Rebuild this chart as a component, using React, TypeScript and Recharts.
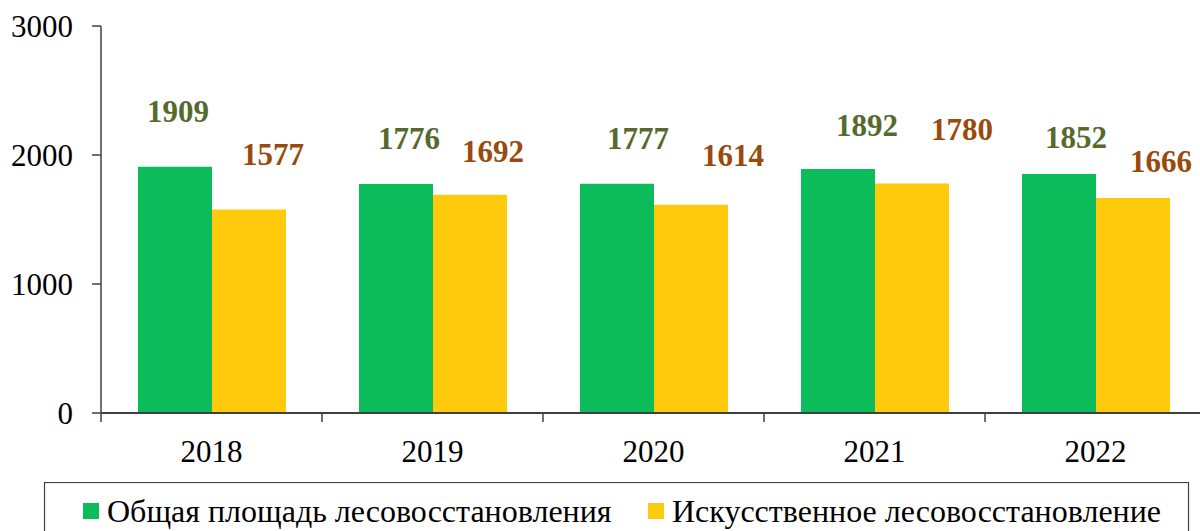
import React from "react";
import { BarChart, Bar, XAxis, YAxis, LabelList } from "recharts";

const YEARS = ["2018", "2019", "2020", "2021", "2022"];
const TOTAL_AREA = [1909, 1776, 1777, 1892, 1852];
const ARTIFICIAL = [1577, 1692, 1614, 1780, 1666];
const Y_TICKS = [0, 1000, 2000, 3000];
const SERIES_NAMES = [
  "Общая площадь лесовосстановления",
  "Искусственное лесовосстановление",
];

// labels were dragged by hand in the source: shift from bar centre, gap above bar top
const TOTAL_LABEL_DX = [3, 13, 21, 29, 17];
const TOTAL_LABEL_GAP = [45, 35, 35, 33, 26];
const ART_LABEL_DX = [24, 23, 42, 50, 28];
const ART_LABEL_GAP = [45, 33, 39, 43, 26];

const GREEN = "#0CBB5A";
const YELLOW = "#FFCA0C";
const GREEN_TEXT = "#566A2E";
const BROWN_TEXT = "#9A4A0A";
const AXIS = "#404040";
const FONT = "Liberation Serif";

const CHART_W = 1210;
const CHART_H = 531;
const PLOT_LEFT = 101;
const PLOT_RIGHT = 1206;
const BAND = (PLOT_RIGHT - PLOT_LEFT) / YEARS.length;

const data = YEARS.map((year, i) => ({
  year,
  total: TOTAL_AREA[i],
  artificial: ARTIFICIAL[i],
}));

function YearTick(props: any) {
  const { x, y, payload, index } = props;
  const half = BAND / 2;
  return (
    <g>
      <line x1={x - half} x2={x - half} y1={y} y2={y + 9} stroke={AXIS} strokeWidth={1.5} />
      {index === YEARS.length - 1 && (
        <line x1={x + half} x2={x + half} y1={y} y2={y + 9} stroke={AXIS} strokeWidth={1.5} />
      )}
      <text x={x} y={y + 49} textAnchor="middle" fontSize={31} fontFamily={FONT} fill="#000">
        {payload.value}
      </text>
    </g>
  );
}

function ValueTick(props: any) {
  const { x, y, payload } = props;
  return (
    <text x={x} y={y + 11} textAnchor="end" fontSize={31} fontFamily={FONT} fill="#000">
      {payload.value}
    </text>
  );
}

function makeLabel(dxs: number[], gaps: number[], color: string) {
  return (props: any) => {
    const { x, y, width, value, index } = props;
    return (
      <text
        x={Number(x) + Number(width) / 2 + dxs[index]}
        y={Number(y) - gaps[index]}
        textAnchor="middle"
        fontSize={31}
        fontWeight="bold"
        fontFamily={FONT}
        fill={color}
      >
        {value}
      </text>
    );
  };
}

function LegendBox() {
  return (
    <svg
      width={1200}
      height={49}
      style={{ position: "absolute", left: 0, top: 482 }}
    >
      <rect x={44.5} y={0.5} width={1144} height={100} fill="#fff" stroke={AXIS} strokeWidth={1.2} />
      <rect x={83} y={21} width={16} height={16} fill={GREEN} />
      <text x={107} y={40} fontSize={32} fontFamily={FONT} fill="#000">
        {SERIES_NAMES[0]}
      </text>
      <rect x={648} y={21} width={16} height={16} fill={YELLOW} />
      <text x={672} y={40} fontSize={32} fontFamily={FONT} fill="#000">
        {SERIES_NAMES[1]}
      </text>
    </svg>
  );
}

export default function App() {
  return (
    <div
      style={{
        position: "absolute",
        left: 0,
        top: 0,
        width: 1200,
        height: 531,
        overflow: "hidden",
        background: "#fff",
      }}
    >
      <BarChart
        width={CHART_W}
        height={CHART_H}
        data={data}
        margin={{ top: 26, right: CHART_W - PLOT_RIGHT, bottom: 0, left: 0 }}
        barCategoryGap={37}
        barGap={0}
      >
        <XAxis
          dataKey="year"
          height={118}
          axisLine={{ stroke: AXIS, strokeWidth: 2 }}
          tickLine={false}
          tickSize={0}
          tickMargin={0}
          tick={<YearTick />}
          interval={0}
        />
        <YAxis
          width={PLOT_LEFT}
          domain={[0, 3000]}
          ticks={Y_TICKS}
          axisLine={{ stroke: AXIS, strokeWidth: 1.5 }}
          tickLine={{ stroke: AXIS, strokeWidth: 1.5 }}
          tickSize={9}
          tickMargin={19}
          tick={<ValueTick />}
        />
        <Bar dataKey="total" name={SERIES_NAMES[0]} fill={GREEN} isAnimationActive={false}>
          <LabelList dataKey="total" content={makeLabel(TOTAL_LABEL_DX, TOTAL_LABEL_GAP, GREEN_TEXT)} />
        </Bar>
        <Bar dataKey="artificial" name={SERIES_NAMES[1]} fill={YELLOW} isAnimationActive={false}>
          <LabelList dataKey="artificial" content={makeLabel(ART_LABEL_DX, ART_LABEL_GAP, BROWN_TEXT)} />
        </Bar>
      </BarChart>
      <LegendBox />
    </div>
  );
}
